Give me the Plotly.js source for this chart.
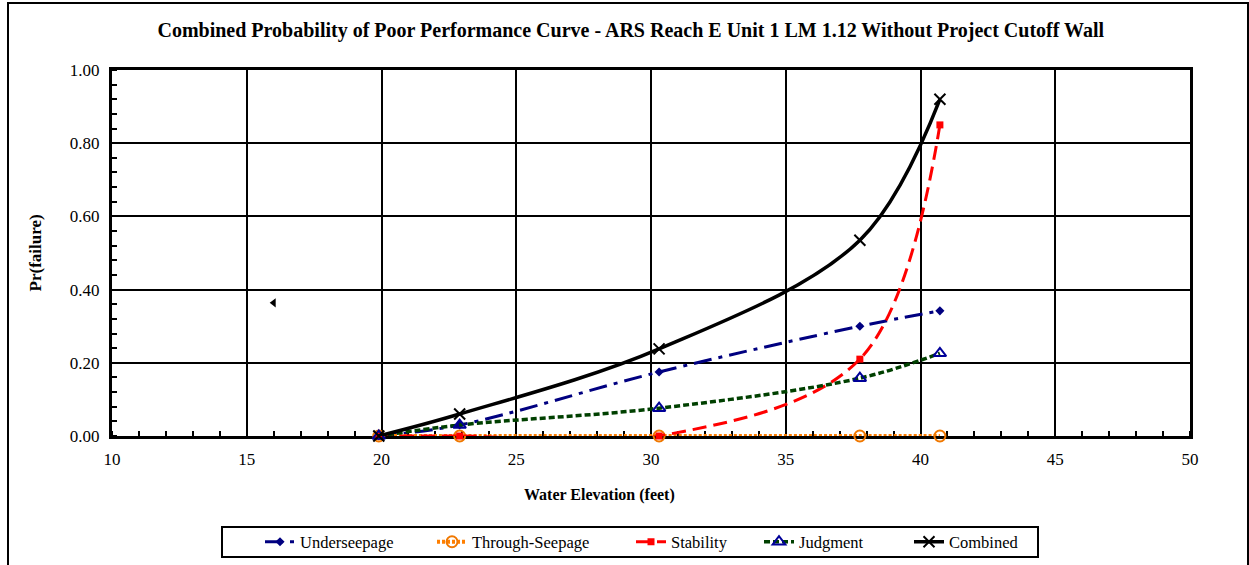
<!DOCTYPE html>
<html>
<head>
<meta charset="utf-8">
<script src="https://cdn.plot.ly/plotly-3.0.1.min.js"></script>
<style>
html,body{margin:0;padding:0;background:#fff;}
#wrap{position:relative;width:1249px;height:565px;}
#chart{position:absolute;left:0;top:0;width:1249px;height:565px;}
#frame{position:absolute;left:7px;top:2px;width:1238px;height:600px;border:2px solid #000;pointer-events:none;}
</style>
</head>
<body>
<div id="wrap"><div id="chart"></div><div id="frame"></div></div>
<script>
// Water elevation (feet)
const elevations = [19.9, 22.9, 30.3, 37.75, 40.72];
const underseepage = [0.0, 0.03, 0.175, 0.30, 0.342];
const throughSeepage = [0.0, 0.0, 0.0, 0.0, 0.0];
const stability = [0.0, 0.0, 0.0, 0.21, 0.85];
const judgment = [0.0, 0.03, 0.076, 0.158, 0.226];
const combined = [0.0, 0.06, 0.238, 0.535, 0.92];
const strayX = [16.0];
const strayY = [0.364];
const xTicks = [10, 15, 20, 25, 30, 35, 40, 45, 50];
const yTicks = [0, 0.2, 0.4, 0.6, 0.8, 1.0];

const serif = 'Liberation Serif, Times New Roman, serif';

const traces = [
  {name:'Underseepage', legend:'legend', x:elevations, y:underseepage, mode:'lines+markers', cliponaxis:false,
   line:{color:'#000080', width:3, dash:'18px,7px,4px,7px', shape:'spline', smoothing:1},
   marker:{symbol:'diamond', size:7, color:'#000080'}},
  {name:'Through-Seepage', legend:'legend2', x:elevations, y:throughSeepage, mode:'lines+markers', cliponaxis:false,
   line:{color:'#FF7F00', width:4, dash:'3px,2px', shape:'spline', smoothing:1},
   marker:{symbol:'circle-open', size:11, color:'#F07800', line:{width:2, color:'#F07800'}}},
  {name:'Stability', legend:'legend3', x:elevations, y:stability, mode:'lines+markers', cliponaxis:false,
   line:{color:'#FF0000', width:3, dash:'14px,7px', shape:'spline', smoothing:1},
   marker:{symbol:'square', size:7, color:'#FF0000'}},
  {name:'Judgment', legend:'legend4', x:elevations, y:judgment, mode:'lines+markers', cliponaxis:false,
   line:{color:'#004000', width:3.5, dash:'6px,3px', shape:'spline', smoothing:1},
   marker:{symbol:'triangle-up-open', size:11, color:'#000099', line:{width:2, color:'#000099'}}},
  {name:'Combined', legend:'legend5', x:elevations, y:combined, mode:'lines+markers', cliponaxis:false,
   line:{color:'#000000', width:3.5, shape:'spline', smoothing:1},
   marker:{symbol:'x-thin-open', size:11, color:'#000000', line:{width:2, color:'#000000'}}},
  {name:'', x:strayX, y:strayY, mode:'markers', showlegend:false,
   marker:{symbol:'triangle-left', size:8, color:'#000000'}}
];

function leg(px){
  return {orientation:'h', xref:'container', yref:'container', x:px/1249, xanchor:'left',
    y:(565-542)/565, yanchor:'middle', borderwidth:0, bgcolor:'rgba(0,0,0,0)',
    font:{family:serif, size:16.5, color:'#000'}, itemwidth:30};
}

const layout = {
  width:1249, height:565,
  paper_bgcolor:'#fff', plot_bgcolor:'#fff',
  margin:{l:112, r:59, t:70, b:129},
  font:{family:serif, color:'#000'},
  title:{text:'<b>Combined Probability of Poor Performance Curve - ARS Reach E Unit 1 LM 1.12 Without Project Cutoff Wall</b>',
         font:{family:serif, size:20, color:'#000'}, x:0.505, xanchor:'center', y:0.947, yanchor:'middle'},
  xaxis:{range:[10,50], tickvals:xTicks, ticktext:xTicks.map(String), automargin:false, layer:'below traces',
    showgrid:true, gridcolor:'#000', gridwidth:2,
    showline:true, linecolor:'#000', linewidth:3, mirror:true,
    ticks:'', zeroline:false, tickfont:{family:serif, size:17, color:'#000'}, ticklabelstandoff:6,
    minor:{dtick:1, ticks:'inside', ticklen:5, tickwidth:2, tickcolor:'#000', showgrid:false}},
  yaxis:{range:[0,1], tickvals:yTicks, ticktext:yTicks.map(v=>v.toFixed(2)), automargin:false, layer:'below traces',
    showgrid:true, gridcolor:'#000', gridwidth:2,
    showline:true, linecolor:'#000', linewidth:3, mirror:true,
    ticks:'', zeroline:false, tickfont:{family:serif, size:17, color:'#000'}, ticklabelstandoff:6,
    minor:{dtick:0.04, ticks:'inside', ticklen:5, tickwidth:2, tickcolor:'#000', showgrid:false}},
  showlegend:true,
  legend:leg(304-44),
  legend2:leg(476-44),
  legend3:leg(675-44),
  legend4:leg(803-44),
  legend5:leg(953-44),
  shapes:[
    {type:'rect', xref:'paper', yref:'paper', x0:(222-112)/1078, x1:(1038-112)/1078,
     y0:(436-557)/366, y1:(436-527)/366, line:{color:'#000', width:2}, fillcolor:'rgba(0,0,0,0)', layer:'below'}
  ],
  annotations:[
    {text:'<b>Water Elevation (feet)</b>', xref:'paper', yref:'paper', x:0.4518, y:-0.16, xanchor:'center', yanchor:'middle',
     showarrow:false, font:{family:serif, size:16, color:'#000'}},
    {text:'<b>Pr(failure)</b>', xref:'paper', yref:'paper', x:-0.071, y:0.5, xanchor:'center', yanchor:'middle',
     textangle:-90, showarrow:false, font:{family:serif, size:17, color:'#000'}}
  ]
};

Plotly.newPlot('chart', traces, layout, {displayModeBar:false, staticPlot:true});
</script>
</body>
</html>
